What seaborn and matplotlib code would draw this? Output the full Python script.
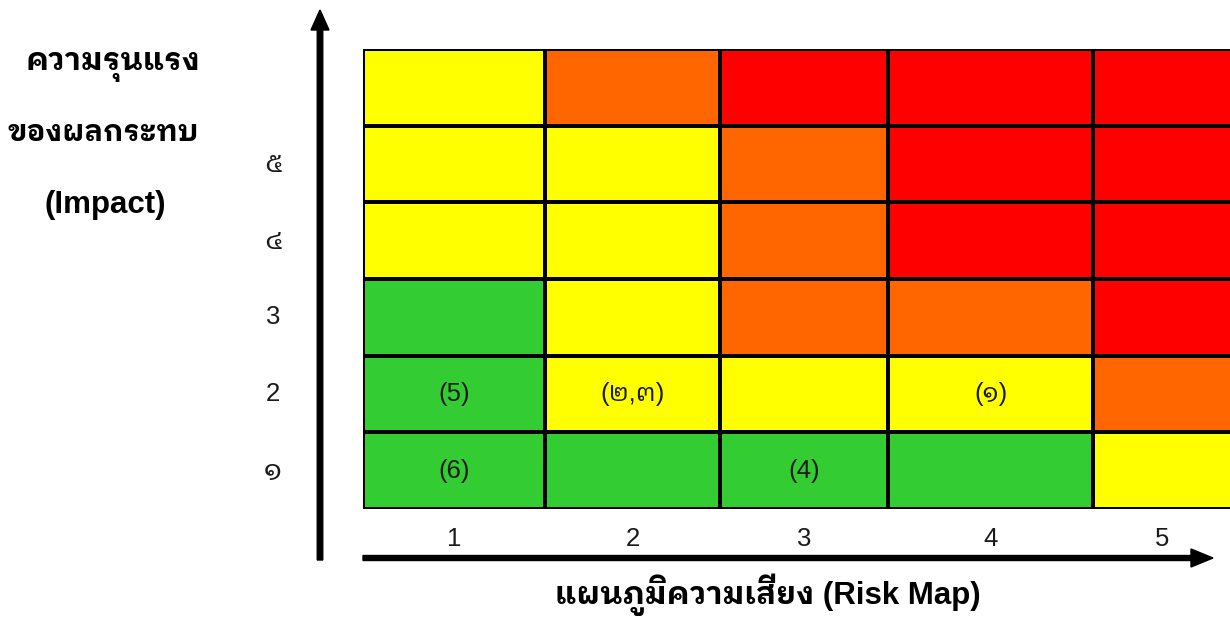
import numpy as np
import pandas as pd
import matplotlib
matplotlib.use("Agg")
import matplotlib.pyplot as plt
from matplotlib import font_manager as fm
from matplotlib.ft2font import FT2Font
from matplotlib.colors import ListedColormap
from matplotlib.patches import FancyArrow
import seaborn as sns

# ---------------- data ----------------
impact_labels = ['', '๕', '๔', '3', '2', '๑']          # rows, top to bottom
likelihood_labels = ['1', '2', '3', '4', '5']          # columns
# risk level per cell: 0 = low (green), 1 = medium (yellow), 2 = high (orange), 3 = very high (red)
risk_row_top = [1, 2, 3, 3, 3]
risk_row_5 = [1, 1, 2, 3, 3]
risk_row_4 = [1, 1, 2, 3, 3]
risk_row_3 = [0, 1, 2, 2, 3]
risk_row_2 = [0, 1, 1, 1, 2]
risk_row_1 = [0, 0, 0, 0, 1]
cell_row_top = ['', '', '', '', '']
cell_row_5 = ['', '', '', '', '']
cell_row_4 = ['', '', '', '', '']
cell_row_3 = ['', '', '', '', '']
cell_row_2 = ['(5)', '(๒,๓)', '', '(๑)', '']
cell_row_1 = ['(6)', '', '(4)', '', '']
level_colors = ['#33CC33', '#FFFF00', '#FF6600', '#FF0000']
y_title_lines = ['ความรุนแรง', 'ของผลกระทบ', '(Impact)']
x_title = 'แผนภูมิความเสี่ยง (Risk Map)'

risk = pd.DataFrame([risk_row_top, risk_row_5, risk_row_4, risk_row_3, risk_row_2, risk_row_1],
                    index=impact_labels, columns=likelihood_labels)
annots = np.array([cell_row_top, cell_row_5, cell_row_4, cell_row_3, cell_row_2, cell_row_1], dtype=object)

# ---------------- fonts ----------------
sns.set_theme(style="white")
thai_family = None
preferred = []
for f in fm.fontManager.ttflist:
    try:
        cmap = FT2Font(f.fname).get_charmap()
    except Exception:
        continue
    if 0x0E01 in cmap and 0x0E51 in cmap and 0x0E2A in cmap:
        preferred.append(f.name)
if preferred:
    for cand in preferred:
        if 'Sans' in cand and 'Looped' in cand:
            thai_family = cand
            break
    if thai_family is None:
        thai_family = preferred[0]
families = ['Liberation Sans']
if thai_family:
    families.append(thai_family)
families.append('DejaVu Sans')
plt.rcParams['font.family'] = families

# ---------------- layout ----------------
W, H = 1230, 617
fig = plt.figure(figsize=(W / 100, H / 100), dpi=100)

# overlay axes in pixel coordinates for arrows and titles
ov = fig.add_axes([0, 0, 1, 1])
ov.set_xlim(0, W)
ov.set_ylim(H, 0)
ov.axis('off')

col_edges = [363, 545, 720, 888, 1093, 1232]
grid_top, grid_bottom = 49, 509
ax = fig.add_axes([col_edges[0] / W, (H - grid_bottom) / H,
                   (col_edges[-1] - col_edges[0]) / W, (grid_bottom - grid_top) / H])
idx = np.arange(len(col_edges), dtype=float)


def fwd(x):
    return np.interp(x, idx, col_edges)


def inv(x):
    return np.interp(x, col_edges, idx)


ax.set_xscale('function', functions=(fwd, inv))

sns.heatmap(risk, ax=ax, cmap=ListedColormap(level_colors), vmin=-0.5, vmax=3.5,
            cbar=False, linewidths=1.6, linecolor='black',
            annot=annots, fmt='', annot_kws={'fontsize': 18.5, 'color': '#1a1a1a'},
            xticklabels=likelihood_labels, yticklabels=impact_labels)
ax.set_xlim(0, len(likelihood_labels))
ax.set_xlabel('')
ax.set_ylabel('')
ax.tick_params(axis='both', length=0, labelsize=18.5, colors='#1a1a1a')
ax.tick_params(axis='x', pad=13)
ax.tick_params(axis='y', pad=65)
for lab in ax.get_yticklabels():
    lab.set_rotation(0)
    lab.set_horizontalalignment('center')
    if not lab.get_text().isascii():
        lab.set_fontsize(21)
for lab in ax.get_xticklabels():
    lab.set_rotation(0)

# arrows
ov.add_patch(FancyArrow(320, 560, 0, -550, width=5.5, head_width=18, head_length=20,
                        length_includes_head=True, color='black'))
ov.add_patch(FancyArrow(363, 558, 850, 0, width=5, head_width=18, head_length=22,
                        length_includes_head=True, color='black'))

# titles
title_x = [113, 103, 105]
title_y = [70, 141, 213]
title_size = [22.5, 21, 22.5]
for t, x, y, s in zip(y_title_lines, title_x, title_y, title_size):
    ov.text(x, y, t, ha='center', va='baseline', fontsize=s, fontweight='bold', color='black')
ov.text(768, 604, x_title, ha='center', va='baseline', fontsize=22.5, fontweight='bold', color='black')

fig.savefig('out.png', dpi=100)
